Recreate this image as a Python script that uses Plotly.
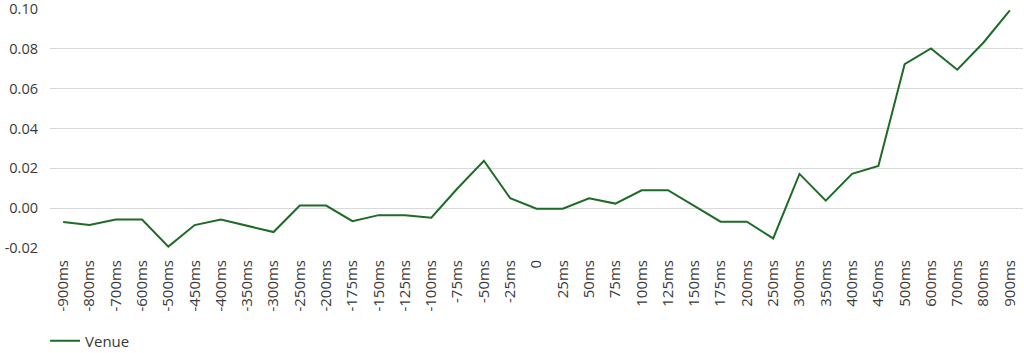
import plotly.graph_objects as go

categories = ["-900ms", "-800ms", "-700ms", "-600ms", "-500ms", "-450ms", "-400ms", "-350ms",
              "-300ms", "-250ms", "-200ms", "-175ms", "-150ms", "-125ms", "-100ms", "-75ms",
              "-50ms", "-25ms", "0", "25ms", "50ms", "75ms", "100ms", "125ms", "150ms",
              "175ms", "200ms", "250ms", "300ms", "350ms", "400ms", "450ms", "500ms",
              "600ms", "700ms", "800ms", "900ms"]

venue = [-0.0070, -0.0085, -0.0057, -0.0057, -0.0193, -0.0085, -0.0057, -0.0088,
         -0.0120, 0.0013, 0.0013, -0.0065, -0.0035, -0.0035, -0.0048, 0.0100,
         0.0238, 0.0050, -0.0003, -0.0003, 0.0050, 0.0023, 0.0090, 0.0090, 0.0010,
         -0.0068, -0.0068, -0.0152, 0.0172, 0.0038, 0.0172, 0.0212, 0.0723,
         0.0802, 0.0695, 0.0832, 0.0993]

y_tickvals = [-0.02, 0.00, 0.02, 0.04, 0.06, 0.08, 0.10]
y_ticktext = ["-0.02", "0.00", "0.02", "0.04", "0.06", "0.08", "0.10"]

fig = go.Figure()
fig.add_trace(go.Scatter(
    x=categories, y=venue, mode="lines", name="Venue",
    line=dict(color="#1d6b26", width=2),
))

fig.update_layout(
    width=1024, height=353,
    margin=dict(l=50, r=1, t=9, b=105),
    paper_bgcolor="white", plot_bgcolor="white",
    font=dict(family="Open Sans, Noto Sans, sans-serif", size=15, color="#3a3a3a"),
    showlegend=True,
    legend=dict(orientation="h", x=0.044, xref="container", y=0.034, yref="container",
                xanchor="left", yanchor="middle",
                font=dict(size=15, color="#3a3a3a")),
    xaxis=dict(type="category", tickangle=-90, showgrid=False, zeroline=False,
               showline=False, ticks="", ticklabelstandoff=8, automargin=False,
               range=[-0.5, len(categories) - 0.5]),
    yaxis=dict(range=[-0.02, 0.10], tickvals=y_tickvals, ticktext=y_ticktext,
               showgrid=True, gridcolor="#d9d9d9", gridwidth=1, zeroline=False,
               showline=False, ticks="", ticklabelstandoff=11, automargin=False,
               ticklabeloverflow="allow", tickfont=dict(size=14.5)),
)

fig.write_html("out.html")
